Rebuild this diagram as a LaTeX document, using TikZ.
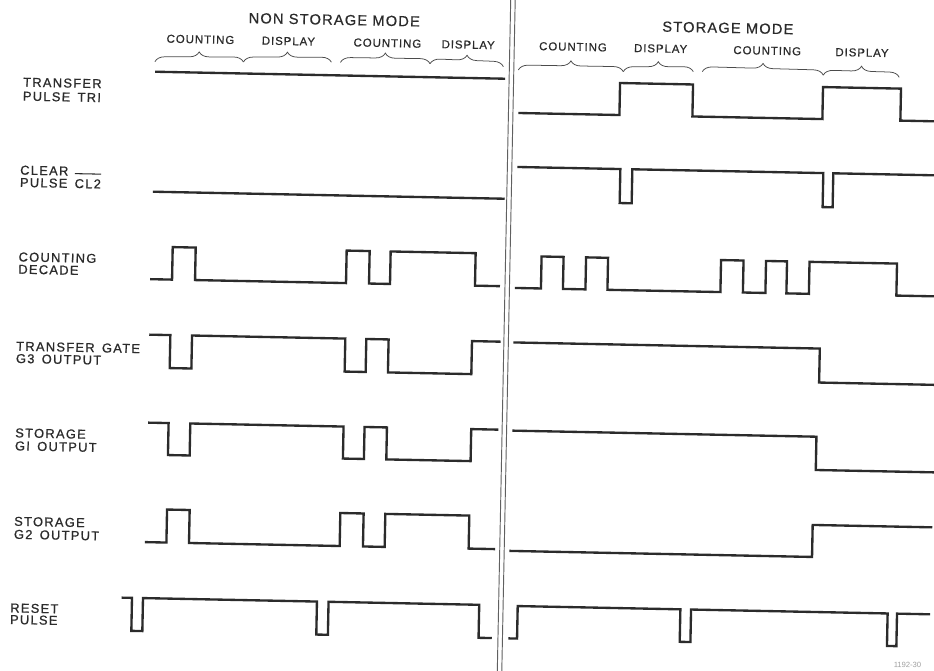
\documentclass[tikz,border=0pt]{standalone}
\usepackage{fontspec}
\setmainfont{Liberation Sans}
\newfontfamily\lblfont[LetterSpace=10,WordSpace=1.5,FakeBold=0.8]{Liberation Sans}
\newfontfamily\hdrfont[LetterSpace=8,FakeBold=0.6]{Liberation Sans}
\usetikzlibrary{decorations.pathreplacing}
\definecolor{ink}{HTML}{2B2B2B}
\newcommand\ovlcl[1]{\setbox0\hbox{#1}\leavevmode\rlap{\raisebox{11.8pt}[0pt][0pt]{\rule{\wd0}{0.9pt}}}\box0}
\begin{document}
\begin{tikzpicture}[x={(0.03cm,0)}, y={(0,-0.03cm)},
  sig/.style={draw=ink, line width=2pt, line join=miter, line cap=butt},
  sep/.style={draw=ink!75, line width=0.8pt},
  brc/.style={draw=ink!85, line width=0.65pt, decorate, decoration={brace, amplitude=8.5pt}},
  lbl/.style={font=\lblfont\fontsize{11}{#1}\selectfont, text=ink, inner sep=0pt, anchor=north west, align=left, transform shape},
  hdr/.style={font=\hdrfont\fontsize{12.5}{14}\selectfont, text=ink, inner sep=0pt, anchor=base, transform shape},
  sub/.style={font=\hdrfont\fontsize{9.8}{11}\selectfont, text=ink, inner sep=0pt, anchor=base, transform shape},
  num/.style={font=\fontsize{6.5}{7}\selectfont, text=ink!45, inner sep=0pt, transform shape}]
\useasboundingbox[fill=white] (0,0) rectangle (934,670);
\begin{scope}[rotate around={-1.146:(467,335)}]
% separator
\draw[sep] (504,-8) -- (504,690);
\draw[sep] (508.5,-8) -- (508.5,690);
% headers
\node[hdr] (nsm) at (328,27.5) {NON STORAGE MODE};
\node[hdr] (sm) at (721.7,27.8) {STORAGE MODE};
\node[sub] (c1) at (194.6,48.7) {COUNTING};
\node[sub] (d1) at (282.6,48.7) {DISPLAY};
\node[sub] (c2) at (381.6,48.7) {COUNTING};
\node[sub] (d2) at (462.4,48.7) {DISPLAY};
\node[sub] (c3) at (567.2,48.7) {COUNTING};
\node[sub] (d3) at (654.9,48.7) {DISPLAY};
\node[sub] (c4) at (761.5,48.7) {COUNTING};
\node[sub] (d4) at (856.3,48.7) {DISPLAY};
% braces
\draw[brc] (149.5,68) -- (238,66.5);
\draw[brc] (238,66.5) -- (326,65);
\draw[brc] (335,65) -- (424.6,64.5);
\draw[brc] (424.6,64.5) -- (498,66);
\draw[brc] (513,69) -- (618,68.6);
\draw[brc] (618,68.6) -- (688,67.2);
\draw[brc] (697,67) -- (818,68);
\draw[brc] (818,68) -- (894,68.7);
% labels
\node[lbl=11.9pt] (l1) at (18,86.3) {TRANSFER\\PULSE TRI};
\node[lbl=10.5pt] (l2) at (16.8,174.3) {CLEAR\\PULSE \ovlcl{CL2}};
\node[lbl=10.5pt] (l3) at (16.9,261.1) {COUNTING\\DECADE};
\node[lbl=10.5pt] (l4) at (16.3,350.4) {TRANSFER GATE\\G3 OUTPUT};
\node[lbl=11.1pt] (l5) at (17.1,437.1) {STORAGE\\GI OUTPUT};
\node[lbl=11.1pt] (l6) at (17.8,525.5) {STORAGE\\G2 OUTPUT};
\node[lbl=9.9pt] (l7) at (15.6,612.2) {RESET\\PULSE};
% transfer pulse TRI
\draw[sig] (150,78) -- (500,78);
\draw[sig] (514,112) -| (615,80) -| (688,112) -| (818,80) -| (896,112) -- (938,112);
% clear pulse CL2
\draw[sig] (150,198) -- (502,198);
\draw[sig] (514,166) -| (617,200) -| (629,166) -| (820,200) -| (830,166) -- (938,166);
% counting decade
\draw[sig] (149,285.5) -| (171,253) -| (194,285.5) -| (345,253) -| (368,285.5) -| (389,253) -| (474,285.5) -- (499,285.5);
\draw[sig] (514,287) -| (540,255) -| (562,287) -| (584.5,255) -| (606.5,287) -| (719.5,255) -| (742,287) -| (764.5,255) -| (785.5,287) -| (808,255) -| (895.5,287) -- (938,287);
% transfer gate G3
\draw[sig] (149.3,341) -| (170.4,374) -| (192.1,341) -| (345.4,374) -| (366.4,341) -| (388.7,374) -| (472.1,341) -- (500.8,341);
\draw[sig] (513.5,341.5) -| (820,375.5) -- (938,375.5);
% storage G1
\draw[sig] (150,429) -| (170.4,461) -| (192.1,429) -| (345.4,461) -| (366.4,429) -| (388.8,461) -| (473.1,429) -- (500.2,429);
\draw[sig] (514.2,429.7) -| (818.4,463) -- (938,463);
% storage G2
\draw[sig] (149.1,548.5) -| (170.6,515.5) -| (193.2,548.5) -| (343.9,515.5) -| (367.2,548.5) -| (388.9,515.5) -| (472.9,548.5) -- (499.3,548.5);
\draw[sig] (513.6,550) -| (816.4,518) -- (936,518);
% reset pulse
\draw[sig] (126.9,604.5) -| (137.3,637.5) -| (148.3,604.5) -| (322.3,637.5) -| (333.9,604.5) -| (484.6,637.5) -- (497.8,637.5);
\draw[sig] (514.4,637.5) -| (523.1,605) -| (685.8,637.5) -| (696.5,605) -| (893.1,637.5) -| (902.5,605) -- (935.6,605);
% figure number
\node[num] (fig) at (914,656) {1192-30};
\end{scope}
\end{tikzpicture}
\end{document}
